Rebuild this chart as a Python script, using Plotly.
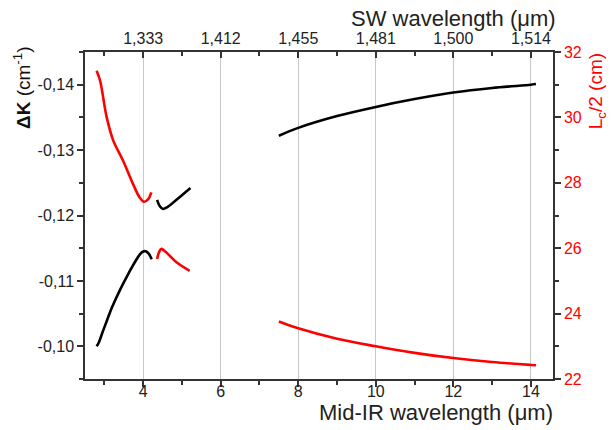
import plotly.graph_objects as go

# ---- data ----
# Mid-IR wavelength (um) and delta-K (cm^-1), black curves (left axis)
dk1_x = [2.80, 2.85, 2.95, 3.05, 3.20, 3.40, 3.60, 3.80, 3.92, 4.00, 4.08, 4.15, 4.22]
dk1_y = [-0.1000, -0.1005, -0.1021, -0.1037, -0.1060, -0.1086, -0.1109, -0.1130, -0.1141, -0.1145, -0.1145, -0.1141, -0.1133]
dk2_x = [4.36, 4.42, 4.48, 4.52, 4.60, 4.80, 5.00, 5.22]
dk2_y = [-0.1224, -0.1215, -0.1211, -0.1210, -0.1212, -0.1221, -0.1231, -0.1242]
dk3_x = [7.5, 8, 9, 10, 11, 12, 13, 14, 14.13]
dk3_y = [-0.1322, -0.1334, -0.1352, -0.1366, -0.1378, -0.1388, -0.1395, -0.1400, -0.1401]

# Lc/2 (cm), red curves (right axis)
lc1_x = [2.80, 2.89, 3.06, 3.23, 3.48, 3.74, 3.91, 4.02, 4.13, 4.21]
lc1_y = [31.43, 31.12, 30.00, 29.29, 28.68, 27.96, 27.55, 27.42, 27.50, 27.71]
lc2_x = [4.36, 4.41, 4.47, 4.58, 4.86, 5.20]
lc2_y = [25.67, 25.88, 25.98, 25.89, 25.57, 25.31]
lc3_x = [7.5, 8, 9, 10, 11, 12, 13, 14, 14.13]
lc3_y = [23.76, 23.55, 23.23, 23.00, 22.80, 22.64, 22.52, 22.43, 22.42]

# axis ticks
x_ticks = [4, 6, 8, 10, 12, 14]
sw_labels = ["1,333", "1,412", "1,455", "1,481", "1,500", "1,514"]
dk_ticks = [-0.14, -0.13, -0.12, -0.11, -0.10]
dk_labels = ["-0,14", "-0,13", "-0,12", "-0,11", "-0,10"]
lc_ticks = [22, 24, 26, 28, 30, 32]

BLACK = "#000000"
RED = "#ff0000"
AX = "#333333"
FONT = "Liberation Sans, Arial, sans-serif"

fig = go.Figure()
for xs, ys in [(dk1_x, dk1_y), (dk2_x, dk2_y), (dk3_x, dk3_y)]:
    fig.add_trace(go.Scatter(x=xs, y=ys, mode="lines", line=dict(color=BLACK, width=2.6, shape="spline"),
                             showlegend=False, hoverinfo="skip", xaxis="x", yaxis="y"))
for xs, ys in [(lc1_x, lc1_y), (lc2_x, lc2_y), (lc3_x, lc3_y)]:
    fig.add_trace(go.Scatter(x=xs, y=ys, mode="lines", line=dict(color=RED, width=2.6, shape="spline"),
                             showlegend=False, hoverinfo="skip", xaxis="x2", yaxis="y2"))

xr = [2.5, 14.57]
fig.update_layout(
    width=613, height=430,
    margin=dict(l=85, r=60, t=52, b=51),
    paper_bgcolor="white", plot_bgcolor="white",
    font=dict(family=FONT, size=16, color="#222"),
    xaxis=dict(range=xr, tickvals=x_ticks, ticks="outside", ticklen=6, tickwidth=1.5, tickcolor=AX,
               ticklabelstandoff=-9,
               showline=True, linecolor=AX, linewidth=1.5, showgrid=True, gridcolor="#c8c8c8", gridwidth=1,
               zeroline=False, minor=dict(ticks="outside", ticklen=4, tickcolor=AX, dtick=1, tick0=3, showgrid=False),
               tickfont=dict(size=16, color="#222")),
    xaxis2=dict(range=xr, overlaying="x", side="top", anchor="y", tickvals=x_ticks, ticktext=sw_labels,
                ticks="inside", ticklen=6, tickwidth=1.5, tickcolor=AX,
                showline=True, linecolor=AX, linewidth=1.5, showgrid=False, zeroline=False,
                minor=dict(ticks="inside", ticklen=4, tickcolor=AX, dtick=1, tick0=3),
                tickfont=dict(size=16, color="#222")),
    yaxis=dict(range=[-0.095, -0.145], tickvals=dk_ticks, ticktext=dk_labels, ticks="outside", ticklen=6,
               tickwidth=1.5, tickcolor=AX, showline=True, linecolor=AX, linewidth=1.5, showgrid=False,
               zeroline=False, minor=dict(ticks="outside", ticklen=4, tickcolor=AX, tickmode="linear",
                                          tick0=-0.105, dtick=0.01),
               tickfont=dict(size=16, color="#222")),
    yaxis2=dict(range=[22, 32], overlaying="y", side="right", anchor="x", tickvals=lc_ticks, ticks="outside",
                ticklen=6, tickwidth=1.5, tickcolor=AX, showline=True, linecolor=AX, linewidth=1.5,
                showgrid=False, zeroline=False,
                minor=dict(ticks="outside", ticklen=4, tickcolor=AX, tickmode="linear", tick0=23, dtick=2),
                tickfont=dict(size=16, color=RED)),
    annotations=[
        dict(text="SW wavelength (\u03bcm)", xref="paper", yref="paper", x=1.01, y=1.0, yshift=34,
             xanchor="right", yanchor="middle", showarrow=False, font=dict(size=22, color="#222")),
        dict(text="Mid-IR wavelength (\u03bcm)", xref="paper", yref="paper", x=1.005, y=0, yshift=-33,
             xanchor="right", yanchor="middle", showarrow=False, font=dict(size=22, color="#222")),
        dict(text="<b>\u0394K</b> (cm<sup>-1</sup>)", xref="paper", yref="paper", x=0, xshift=-63, y=0.89,
             xanchor="center", yanchor="middle", textangle=-90, showarrow=False, font=dict(size=19, color="#111")),
        dict(text="L<sub>c</sub>/2 (cm)", xref="paper", yref="paper", x=1, xshift=44, y=0.88,
             xanchor="center", yanchor="middle", textangle=-90, showarrow=False, font=dict(size=19, color=RED)),
    ],
)

fig.write_html("out.html")
